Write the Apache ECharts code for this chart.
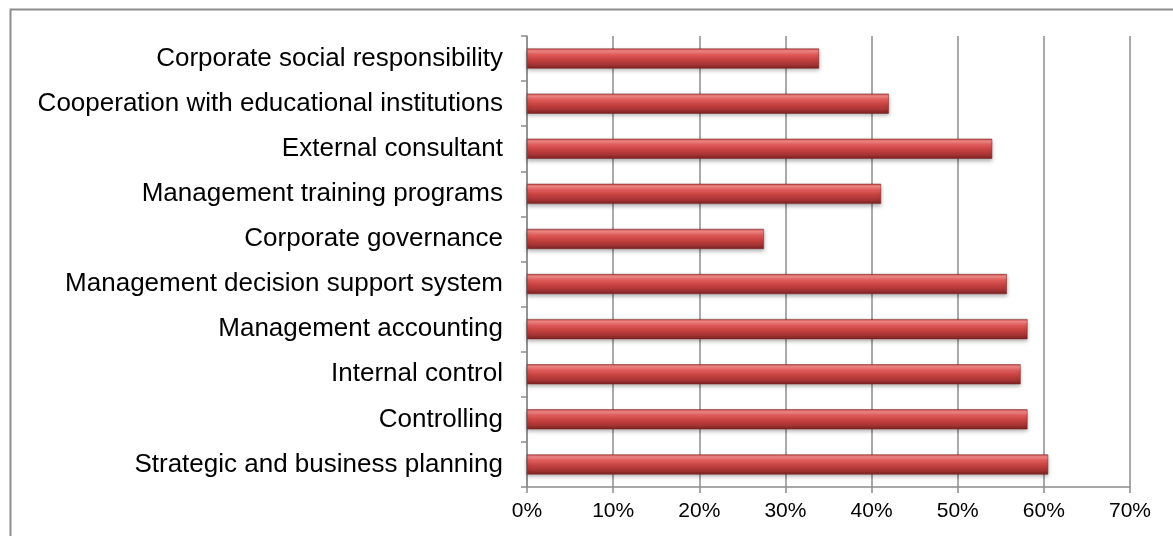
<!DOCTYPE html>
<html>
<head>
<meta charset="utf-8">
<script src="https://cdn.jsdelivr.net/npm/echarts@6/dist/echarts.min.js"></script>
<style>
  html, body { margin: 0; padding: 0; background: #fff; }
  #chart { width: 1173px; height: 536px; }
</style>
</head>
<body>
<div id="chart"></div>
<script>
// categories listed top to bottom, as they appear
var categories = [
    'Corporate social responsibility',
    'Cooperation with educational institutions',
    'External consultant',
    'Management training programs',
    'Corporate governance',
    'Management decision support system',
    'Management accounting',
    'Internal control',
    'Controlling',
    'Strategic and business planning'
];
var shares = [0.339, 0.420, 0.540, 0.411, 0.275, 0.557, 0.581, 0.573, 0.581, 0.605];
var xTicks = [0, 0.1, 0.2, 0.3, 0.4, 0.5, 0.6, 0.7];

var gray = '#8c8c8c';
var font = "'Liberation Sans', Arial, sans-serif";

var chart = echarts.init(document.getElementById('chart'));

var barColor = new echarts.graphic.LinearGradient(0, 0, 0, 1, [
    {offset: 0, color: '#c84646'},
    {offset: 0.12, color: '#f08a88'},
    {offset: 0.3, color: '#e05c5a'},
    {offset: 0.55, color: '#c64240'},
    {offset: 0.8, color: '#a53434'},
    {offset: 1, color: '#7a2222'}
]);

var option = {
    animation: false,
    backgroundColor: '#fff',
    graphic: [{
        type: 'rect',
        left: 8, top: 7,
        shape: {width: 1300, height: 700},
        style: {fill: 'none', stroke: gray, lineWidth: 2},
        silent: true
    }],
    grid: {left: 527, right: 43, top: 36, bottom: 49},
    xAxis: {
        type: 'value',
        min: xTicks[0],
        max: xTicks[xTicks.length - 1],
        interval: 0.1,
        axisLine: {show: true, lineStyle: {color: gray, width: 1.5}},
        axisTick: {show: true, length: 6, lineStyle: {color: gray, width: 1.5}},
        splitLine: {show: true, lineStyle: {color: gray, width: 1.5}},
        axisLabel: {
            margin: 14,
            fontFamily: font,
            fontSize: 21,
            color: '#000',
            formatter: function (v) { return Math.round(v * 100) + '%'; }
        }
    },
    yAxis: {
        type: 'category',
        inverse: true,
        data: categories,
        axisLine: {show: true, lineStyle: {color: gray, width: 1.5}},
        axisTick: {show: true, length: 6, lineStyle: {color: gray, width: 1.5}},
        axisLabel: {margin: 24, fontFamily: font, fontSize: 26, color: '#000'}
    },
    series: [{
        type: 'bar',
        data: shares,
        barWidth: 20,
        itemStyle: {
            color: barColor,
            borderColor: '#7a2222',
            borderWidth: 0.5,
            shadowColor: 'rgba(0,0,0,0.3)',
            shadowBlur: 4,
            shadowOffsetY: 2
        }
    }]
};

chart.setOption(option);
</script>
</body>
</html>
